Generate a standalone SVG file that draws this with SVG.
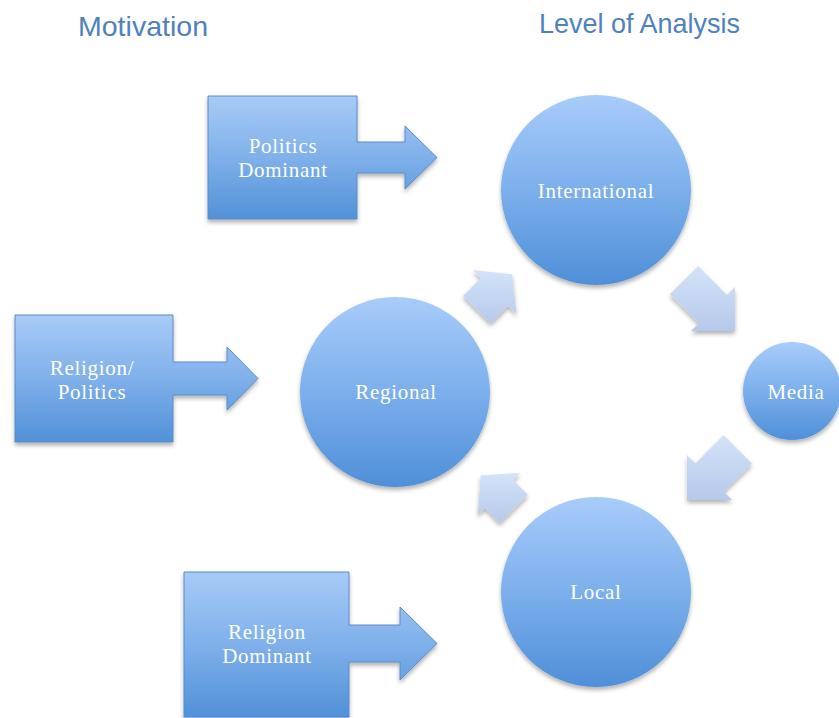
<svg xmlns="http://www.w3.org/2000/svg" width="839" height="718" viewBox="0 0 839 718">
<defs>
<linearGradient id="gBox" x1="0" y1="0" x2="0" y2="1">
<stop offset="0" stop-color="#a8cbf7"/><stop offset="0.5" stop-color="#7fb0ea"/><stop offset="1" stop-color="#5191d8"/>
</linearGradient>
<linearGradient id="gCirc" x1="0" y1="0" x2="0" y2="1">
<stop offset="0" stop-color="#a8ccfa"/><stop offset="0.5" stop-color="#7cafec"/><stop offset="1" stop-color="#4f8fd8"/>
</linearGradient>
<linearGradient id="gArr" x1="0" y1="0" x2="0" y2="1">
<stop offset="0" stop-color="#d4e3f9"/><stop offset="1" stop-color="#b6c9ea"/>
</linearGradient>
<filter id="sh" x="-20%" y="-20%" width="140%" height="140%">
<feDropShadow dx="0" dy="3" stdDeviation="2" flood-color="#000" flood-opacity="0.3"/>
</filter>
<style>
.title{font-family:"Liberation Sans",Arial,sans-serif;font-size:28px;fill:#4f81bd}
.lbl{font-family:"Liberation Serif","Times New Roman",serif;font-size:21px;letter-spacing:0.7px;fill:#ffffff;text-anchor:middle}
.box{fill:url(#gBox);stroke:#5b8cc9;stroke-width:1;filter:url(#sh)}
.circ{fill:url(#gCirc);filter:url(#sh)}
.arr{fill:url(#gArr);filter:url(#sh)}
</style>
</defs>
<rect width="839" height="718" fill="#ffffff"/>
<text class="title" x="78" y="36" textLength="130" lengthAdjust="spacingAndGlyphs">Motivation</text>
<text class="title" x="539" y="33" textLength="201" lengthAdjust="spacingAndGlyphs">Level of Analysis</text>

<g id="politics-dominant">
<path class="box" d="M208,96 H357 V142 H405 V126 L437,157.5 L405,189 V173 H357 V219 H208 Z"/>
<text class="lbl" x="283" y="153">Politics</text>
<text class="lbl" x="283" y="177">Dominant</text>
</g>
<g id="religion-politics">
<path class="box" d="M15,315 H173 V362 H227 V347 L258,378.5 L227,410 V395 H173 V442 H15 Z"/>
<text class="lbl" x="92" y="375">Religion/</text>
<text class="lbl" x="92" y="399">Politics</text>
</g>
<g id="religion-dominant">
<path class="box" d="M184,572 H349 V625 H400 V607 L437,643.5 L400,680 V662 H349 V717 H184 Z"/>
<text class="lbl" x="267" y="639">Religion</text>
<text class="lbl" x="267" y="663">Dominant</text>
</g>

<g id="international">
<circle class="circ" cx="596" cy="190" r="95"/>
<text class="lbl" x="596" y="198">International</text>
</g>
<g id="regional">
<circle class="circ" cx="395" cy="392" r="95"/>
<text class="lbl" x="396" y="399">Regional</text>
</g>
<g id="local">
<circle class="circ" cx="596" cy="592" r="95"/>
<text class="lbl" x="596" y="599">Local</text>
</g>
<g id="media">
<circle class="circ" cx="792" cy="391" r="49"/>
<text class="lbl" x="796" y="399">Media</text>
</g>

<g id="connectors">
<polygon class="arr" points="463,295.9 480.7,278.2 472.6,270.1 512.2,274.3 516.4,313.9 508.3,305.8 490.6,323.5"/>
<polygon class="arr" points="698.2,265.9 727.1,294.9 734.9,287.1 734.9,330.9 691.1,330.9 698.9,323.1 669.9,294.2"/>
<polygon class="arr" points="751.9,463.4 723.6,491.6 732.1,500.1 686.9,500.1 686.9,454.9 695.4,463.4 723.6,435.1"/>
<polygon class="arr" points="499.7,523 484.9,508.1 477.8,515.2 480.6,475.6 520.2,472.8 513.1,479.9 528,494.7"/>
</g>
</svg>
